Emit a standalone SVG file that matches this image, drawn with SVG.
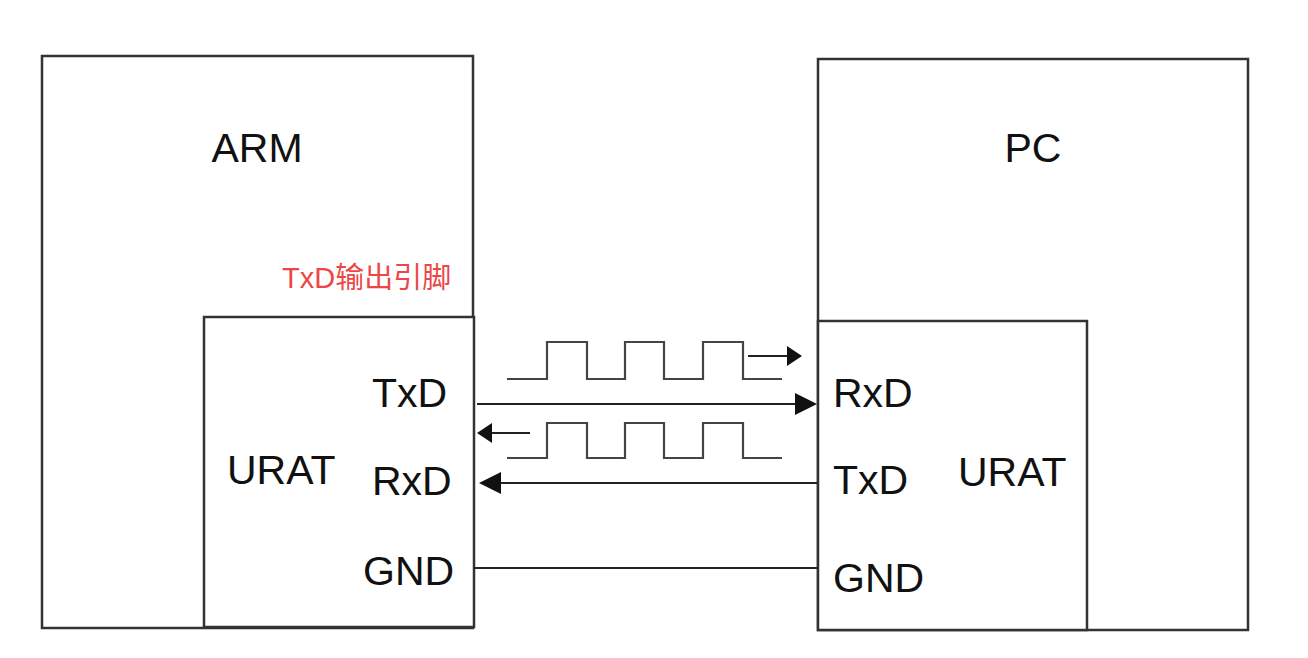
<svg xmlns="http://www.w3.org/2000/svg" width="1308" height="658" viewBox="0 0 1308 658">
<style>
.box{fill:none;stroke:#333;stroke-width:2.5}
.inner{fill:#fff;stroke:#333;stroke-width:2.5}
.lbl{font-family:"Liberation Sans",Arial,sans-serif;font-size:41px;fill:#111}
.red{font-family:"Liberation Sans","Noto Sans CJK SC",sans-serif;font-size:29px;fill:#ee4646}
.wire{fill:none;stroke:#222;stroke-width:2}
.wave{fill:none;stroke:#444;stroke-width:2.2}
</style>
<defs>
<marker id="big" markerUnits="userSpaceOnUse" markerWidth="22" markerHeight="22" viewBox="0 0 22 22" refX="20" refY="11" orient="auto">
<path d="M0,0 L22,11 L0,22 z" fill="#111"/>
</marker>
<marker id="small" markerUnits="userSpaceOnUse" markerWidth="15" markerHeight="20" viewBox="0 0 15 20" refX="13" refY="10" orient="auto">
<path d="M0,0 L15,10 L0,20 z" fill="#111"/>
</marker>
</defs>
<rect width="1308" height="658" fill="#fff"/>
<g id="arm">
<rect class="box" x="42" y="56" width="431" height="572"/>
<text class="lbl" x="257" y="162" text-anchor="middle" font-size="43">ARM</text>
<text class="red" x="282" y="288">TxD输出引脚</text>
</g>
<g id="arm-urat">
<rect class="inner" x="204" y="317" width="270" height="310"/>
<text class="lbl" x="227" y="484">URAT</text>
<text class="lbl" x="372" y="407">TxD</text>
<text class="lbl" x="372" y="495">RxD</text>
<text class="lbl" x="363" y="585">GND</text>
</g>
<g id="pc">
<rect class="box" x="818" y="59" width="430" height="571"/>
<text class="lbl" x="1033" y="162" text-anchor="middle" font-size="43">PC</text>
</g>
<g id="pc-urat">
<rect class="inner" x="818" y="321" width="269" height="309"/>
<text class="lbl" x="833" y="407">RxD</text>
<text class="lbl" x="833" y="494">TxD</text>
<text class="lbl" x="958" y="486">URAT</text>
<text class="lbl" x="833" y="592">GND</text>
</g>
<g id="connectors">
<line class="wire" x1="477" y1="404" x2="815" y2="404" marker-end="url(#big)"/>
<line class="wire" x1="817" y1="483" x2="481" y2="483" marker-end="url(#big)"/>
<line class="wire" x1="474" y1="568" x2="818" y2="568"/>
<path class="wave" d="M507,379 H547 V342 H587 V379 H625 V342 H664 V379 H703 V342 H743 V379 H782"/>
<line class="wire" x1="748" y1="356" x2="800" y2="356" marker-end="url(#small)"/>
<path class="wave" d="M507,458 H547 V423 H587 V458 H625 V423 H664 V458 H703 V423 H743 V458 H782"/>
<line class="wire" x1="530" y1="433" x2="479" y2="433" marker-end="url(#small)"/>
</g>
</svg>
